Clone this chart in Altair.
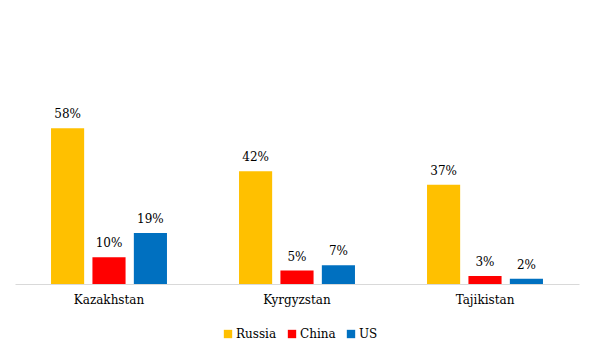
import altair as alt
import pandas as pd

countries = ["Kazakhstan", "Kyrgyzstan", "Tajikistan"]
series = ["Russia", "China", "US"]
russia = [58, 42, 37]
china = [10, 5, 3]
us = [19, 7, 2]
colors = ["#FFC000", "#FF0000", "#0070C0"]

rows = []
for s, vals in zip(series, [russia, china, us]):
    for c, v in zip(countries, vals):
        rows.append({"country": c, "series": s, "value": v / 100, "label": f"{v}%"})
df = pd.DataFrame(rows)

FONT = "DejaVu Serif"

x = alt.X("country:N", sort=countries, title=None,
          scale=alt.Scale(paddingInner=0, paddingOuter=0),
          axis=alt.Axis(labelAngle=0, domainColor="#D9D9D9", domainWidth=1, ticks=False,
                        labelFont=FONT, labelFontSize=12, labelColor="#000000",
                        labelPadding=10))
xo = alt.XOffset("series:N", sort=series,
                 scale=alt.Scale(paddingInner=0.2, paddingOuter=0.87))
y = alt.Y("value:Q", title=None, scale=alt.Scale(domain=[0, 0.7]), axis=None)

bars = alt.Chart(df).mark_bar().encode(
    x=x, xOffset=xo, y=y,
    color=alt.Color("series:N", sort=series,
                    scale=alt.Scale(domain=series, range=colors),
                    legend=alt.Legend(orient="none", direction="horizontal", title=None,
                                      legendX=207, legendY=232, symbolType="square",
                                      symbolSize=70, symbolStrokeWidth=0,
                                      labelFont=FONT, labelFontSize=12, labelColor="#000000",
                                      columnPadding=9, labelOffset=2))
)

text = alt.Chart(df).mark_text(font=FONT, fontSize=12, color="#000000",
                               baseline="alphabetic", dy=-10).encode(
    x=x, xOffset=xo, y=y, text="label:N"
)

chart = (bars + text).properties(
    width=564, height=188,
    background="white",
    autosize=alt.AutoSizeParams(type="none"),
    padding={"left": 15, "top": 96, "right": 16, "bottom": 70},
).configure_view(strokeWidth=0, stroke=None)

chart.save("out.html", embed_options={"renderer": "svg", "actions": False})
